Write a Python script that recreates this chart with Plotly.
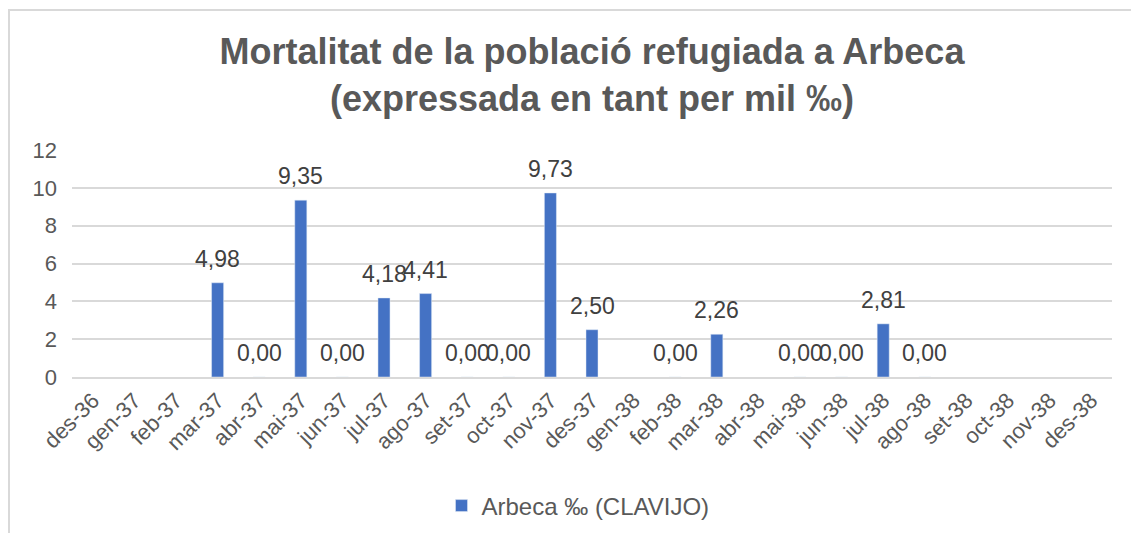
import plotly.graph_objects as go

categories = ["des-36", "gen-37", "feb-37", "mar-37", "abr-37", "mai-37", "jun-37",
              "jul-37", "ago-37", "set-37", "oct-37", "nov-37", "des-37", "gen-38",
              "feb-38", "mar-38", "abr-38", "mai-38", "jun-38", "jul-38", "ago-38",
              "set-38", "oct-38", "nov-38", "des-38"]
values = [None, None, None, 4.98, 0.00, 9.35, 0.00,
          4.18, 4.41, 0.00, 0.00, 9.73, 2.50, None,
          0.00, 2.26, None, 0.00, 0.00, 2.81, 0.00,
          None, None, None, None]
series_name = "Arbeca ‰ (CLAVIJO)"
y_ticks = [0, 2, 4, 6, 8, 10, 12]

# body margin is removed by post_script, so figure coords = page coords
W, H = 1131, 533
L = 72
T = 150
R = W - 1112
B = H - 377
pw, ph = W - L - R, H - T - B

def px_x(x):
    return (x - L) / pw

def px_y(y):
    return (H - B - y) / ph

FONT = "Liberation Sans, Arial, sans-serif"
GRAY = "#595959"

fig = go.Figure()
fig.add_trace(go.Bar(
    x=categories, y=values, name=series_name,
    marker_color="#4472C4",
    showlegend=True,
))

annotations = []
for c, v in zip(categories, values):
    if v is None:
        continue
    annotations.append(dict(
        x=c, y=v, xref="x", yref="y",
        text=f"{v:.2f}".replace(".", ","),
        showarrow=False, yanchor="middle", yshift=24,
        font=dict(family=FONT, size=23, color="#404040"),
    ))

fig.update_layout(
    width=W, height=H,
    margin=dict(l=L, r=R, t=T, b=B, autoexpand=False),
    paper_bgcolor="white", plot_bgcolor="white",
    font=dict(family=FONT, color=GRAY),
    bargap=0.71,
    title=dict(
        text="<b>Mortalitat de la població refugiada a Arbeca<br>(expressada en tant per mil ‰)</b>",
        x=0.5, xanchor="center", xref="paper",
        y=1 - 64 / H, yanchor="middle", yref="container",
        font=dict(family=FONT, size=36, color=GRAY),
    ),
    xaxis=dict(
        type="category", categoryorder="array", categoryarray=categories,
        tickangle=-45, tickfont=dict(family=FONT, size=22, color=GRAY),
        showgrid=False, showline=True, linecolor="#d9d9d9", linewidth=2,
        ticks="", automargin=False,
    ),
    yaxis=dict(
        range=[0, 12], tickvals=y_ticks,
        tickfont=dict(family=FONT, size=22, color=GRAY),
        showgrid=True, gridcolor="#d9d9d9", gridwidth=2,
        zeroline=False, showline=False, ticks="", ticklen=0,
        ticklabelstandoff=14,
        automargin=False,
    ),
    legend=dict(
        orientation="h", x=0.5 - 14 / pw, xanchor="center",
        y=px_y(506), yanchor="middle",
        font=dict(family=FONT, size=24, color=GRAY),
    ),
    annotations=annotations,
    shapes=[
        dict(type="line", xref="paper", yref="paper",
             x0=px_x(8), x1=px_x(W + 4), y0=px_y(10), y1=px_y(10),
             line=dict(color="#d9d9d9", width=2)),
        dict(type="line", xref="paper", yref="paper",
             x0=px_x(9), x1=px_x(9), y0=px_y(10), y1=px_y(H + 4),
             line=dict(color="#d9d9d9", width=2)),
    ],
)

fig.write_html(
    "out.html",
    config={"displayModeBar": False},
    post_script="document.body.style.margin='0px';document.body.style.overflow='hidden';",
)
